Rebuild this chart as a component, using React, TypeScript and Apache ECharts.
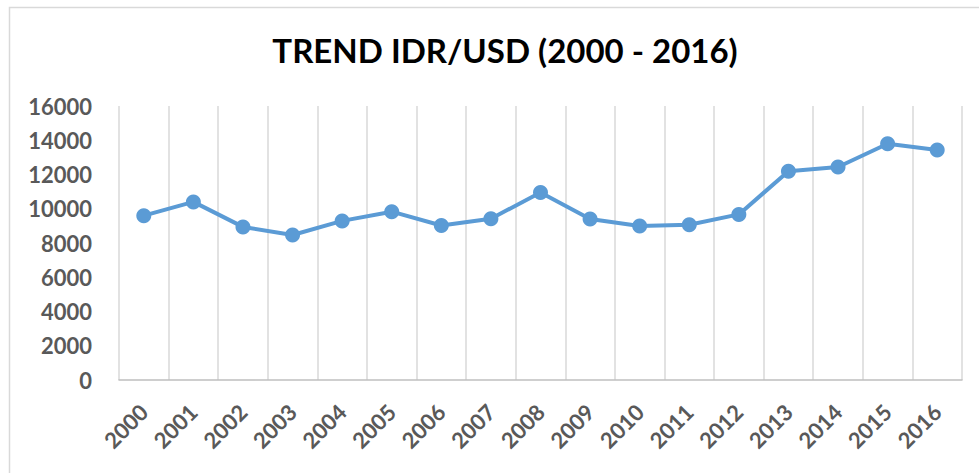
import React, { useEffect, useRef } from "react";
import * as echarts from "echarts";

const years = ["2000","2001","2002","2003","2004","2005","2006","2007","2008","2009","2010","2011","2012","2013","2014","2015","2016"];
const idrUsd = [9595, 10400, 8940, 8465, 9290, 9830, 9020, 9419, 10950, 9400, 8991, 9068, 9670, 12189, 12440, 13795, 13436];
const yMin = 0;
const yMax = 16000;
const yInterval = 2000;
const titleText = "TREND IDR/USD (2000 - 2016)";

export default function App() {
  const ref = useRef<HTMLDivElement>(null);
  useEffect(() => {
    if (!ref.current) return;
    const chart = echarts.init(ref.current, null, { renderer: "svg" });
    chart.setOption({
      animation: false,
      backgroundColor: "#ffffff",
      title: {
        text: titleText,
        left: 500,
        textAlign: "center",
        top: 28,
        textStyle: { fontFamily: "Lato", fontWeight: "bold", fontSize: 33, color: "#000000" },
      },
      graphic: [
        {
          type: "rect",
          shape: { x: 9.5, y: 7.5, width: 1000, height: 500 },
          style: { fill: "none", stroke: "#d9d9d9", lineWidth: 1.5 },
          silent: true,
        },
      ],
      grid: { left: 119, right: 17, top: 106, bottom: 93 },
      xAxis: {
        type: "category",
        data: years,
        boundaryGap: true,
        axisLine: { show: true, lineStyle: { color: "#bfbfbf", width: 1.5 } },
        axisTick: { show: false },
        splitLine: { show: true, lineStyle: { color: "#d9d9d9", width: 1.5 } },
        axisLabel: {
          rotate: 45,
          margin: 28,
          interval: 0,
          fontFamily: "Lato",
          fontWeight: "bold",
          fontSize: 22,
          color: "#595959",
        },
      },
      yAxis: {
        type: "value",
        min: yMin,
        max: yMax,
        interval: yInterval,
        axisLine: { show: false },
        axisTick: { show: false },
        splitLine: { show: false },
        axisLabel: {
          margin: 27,
          fontFamily: "Lato",
          fontWeight: "bold",
          fontSize: 22,
          color: "#595959",
          formatter: (v: number) => String(v),
        },
      },
      series: [
        {
          type: "line",
          data: idrUsd,
          symbol: "circle",
          symbolSize: 15,
          lineStyle: { color: "#5b9bd5", width: 4 },
          itemStyle: { color: "#5b9bd5" },
        },
      ],
    });
    return () => chart.dispose();
  }, []);
  return (
    <div
      ref={ref}
      style={{ position: "fixed", left: 0, top: 0, width: 979, height: 473 }}
    />
  );
}
